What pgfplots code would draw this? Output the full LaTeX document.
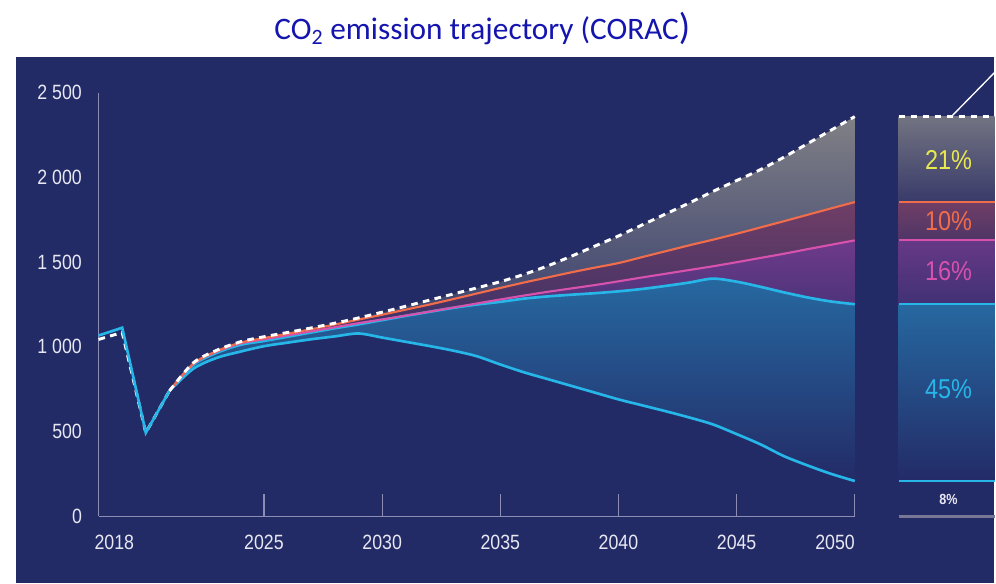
\documentclass[border=0pt]{standalone}
\usepackage{pgfplots}
\pgfplotsset{compat=1.18}
\usepackage{pgfplotstable}
\usepgfplotslibrary{fillbetween}
\usepackage{fontspec}
\setmainfont{Liberation Sans}
\newfontfamily\tickfont[FakeStretch=0.86]{Liberation Sans}
\newfontfamily\titlefont{Carlito}

\definecolor{bg}{RGB}{35,43,103}
\definecolor{titleblue}{RGB}{20,20,175}
\definecolor{axisgray}{RGB}{140,140,180}
\definecolor{labelgray}{RGB}{232,232,242}
\definecolor{cyanc}{RGB}{38,182,232}
\definecolor{orangec}{RGB}{240,108,74}
\definecolor{magc}{RGB}{214,82,172}
\definecolor{yellowc}{RGB}{232,232,80}
\definecolor{bargray}{RGB}{120,120,150}
\definecolor{greytop}{RGB}{128,128,134}
\definecolor{greymid}{RGB}{62,62,106}
\definecolor{orgtop}{RGB}{112,62,102}
\definecolor{purtop}{RGB}{110,58,138}
\definecolor{bluetop}{RGB}{38,104,160}

\pgfplotstableread{
year dash orange magenta cyanup cyanlow
2021 740 740 740 740 740
2022 905 900 898 893 870
2023 980 975 972 965 935
2024 1030 1025 1020 1012 972
2025 1060 1052 1045 1035 1004
2026 1085 1078 1068 1060 1025
2027 1112 1104 1092 1085 1045
2028 1140 1132 1116 1110 1062
2029 1171 1161 1140 1133 1079
2030 1205 1190 1162 1158 1055
2031 1240 1220 1185 1183 1030
2032 1276 1250 1208 1207 1005
2033 1312 1282 1232 1230 978
2034 1348 1315 1256 1250 945
2035 1385 1348 1280 1266 896
2036 1428 1380 1303 1285 850
2037 1478 1410 1325 1298 810
2038 1535 1440 1345 1308 770
2039 1595 1468 1365 1317 730
2040 1655 1495 1387 1328 690
2041 1720 1530 1410 1342 655
2042 1785 1565 1432 1360 620
2043 1850 1600 1454 1380 583
2044 1918 1633 1476 1403 542
2045 1982 1668 1500 1385 485
2046 2046 1705 1525 1355 425
2047 2120 1742 1550 1322 355
2048 2200 1780 1577 1292 300
2049 2280 1818 1603 1268 250
2050 2360 1855 1629 1252 208
}\mainup

\pgfplotstableread{
year dash cyan
2018 1044 1067
2019 1085 1113
2020 493 493
2021 740 740
}\early

\pgfplotstableread{
x top orange magenta cyanup cyanlow base
0 2360 1855 1629 1252 208 0
1 2360 1855 1629 1252 208 0
}\share

\begin{document}
\begin{tikzpicture}[x=0.75pt,y=0.75pt]
\path (0,0) rectangle (996,584);
\node[anchor=base, text=titleblue, font=\titlefont\fontsize{23.5}{27}\selectfont, inner sep=0pt] at (483,544)
  {CO\textsubscript{2} emission trajectory (CORAC{\fontsize{28}{30}\selectfont )}};

\begin{axis}[
  set layers,
  at={(74.03pt,50.25pt)}, anchor=south west, scale only axis,
  width=568pt, height=318pt,
  xmin=2018, xmax=2050, ymin=0, ymax=2500,
  axis x line=bottom, axis y line=left,
  axis line style={draw=axisgray, line width=0.8pt, -},
  xtick={2025,2030,...,2050},
  xticklabels={2025,2030,2035,2040,2045,\makebox[0pt][r]{2050}},
  extra x ticks={2018},
  extra x tick labels={\makebox[0pt][l]{\hspace{-3pt}2018}},
  extra x tick style={major tick length=0pt},
  ytick={0,500,...,2500},
  yticklabels={0,500,1 000,1 500,2 000,2 500},
  ytick style={draw=none},
  xtick style={draw=axisgray, line width=0.8pt},
  tick align=inside, major tick length=16.5pt,
  ticklabel style={font=\tickfont\fontsize{15.5}{17}\selectfont, text=labelgray},
  xticklabel style={yshift=-11pt},
  yticklabel style={xshift=-9pt},
  clip=false,
]
\begin{pgfonlayer}{axis background}
\fill[bg] (axis cs:2014.52,-395) rectangle (axis cs:2055.9,2712);
\end{pgfonlayer}
\addplot[draw=none, smooth, tension=0.5, name path=D] table[x=year,y=dash]{\mainup};
\addplot[draw=none, smooth, tension=0.5, name path=O] table[x=year,y=orange]{\mainup};
\addplot[draw=none, smooth, tension=0.5, name path=M] table[x=year,y=magenta]{\mainup};
\addplot[draw=none, smooth, tension=0.5, name path=CU] table[x=year,y=cyanup]{\mainup};
\addplot[draw=none, smooth, tension=0.5, name path=CL] table[x=year,y=cyanlow]{\mainup};

\addplot[top color=greytop, middle color=greymid, bottom color=bg] fill between[of=D and O];
\addplot[top color=orgtop, bottom color=bg] fill between[of=O and M];
\addplot[top color=purtop, bottom color=bg] fill between[of=M and CU];
\addplot[top color=bluetop, bottom color=bg] fill between[of=CU and CL];

\addplot[white, line width=2.2pt, dash pattern=on 5pt off 4pt] table[x=year,y=dash]{\early};
\addplot[cyanc, line width=2pt] table[x=year,y=cyan]{\early};
\addplot[cyanc, line width=2pt, smooth, tension=0.5] table[x=year,y=cyanlow]{\mainup};
\addplot[cyanc, line width=2pt, smooth, tension=0.5] table[x=year,y=cyanup]{\mainup};
\addplot[magc, line width=1.6pt, smooth, tension=0.5] table[x=year,y=magenta]{\mainup};
\addplot[orangec, line width=1.6pt, smooth, tension=0.5] table[x=year,y=orange]{\mainup};
\addplot[white, line width=2.2pt, dash pattern=on 5pt off 4pt, smooth, tension=0.5] table[x=year,y=dash]{\mainup};
\end{axis}

\begin{axis}[
  set layers,
  at={(675pt,50.25pt)}, anchor=south west, scale only axis,
  width=72pt, height=318pt,
  xmin=0, xmax=1, ymin=0, ymax=2500,
  hide axis, clip=false,
]
\addplot[draw=none, name path=T] table[x=x,y=top]{\share};
\addplot[draw=none, name path=RO] table[x=x,y=orange]{\share};
\addplot[draw=none, name path=RM] table[x=x,y=magenta]{\share};
\addplot[draw=none, name path=RC] table[x=x,y=cyanup]{\share};
\addplot[draw=none, name path=RL] table[x=x,y=cyanlow]{\share};
\addplot[top color=greytop!85!bg, bottom color=greymid!80!bg] fill between[of=T and RO];
\addplot[top color=orgtop, bottom color=orgtop!55!bg] fill between[of=RO and RM];
\addplot[top color=purtop!90!bg, bottom color=purtop!40!bg] fill between[of=RM and RC];
\addplot[top color=bluetop, bottom color=bg] fill between[of=RC and RL];
\addplot[bargray, line width=2pt] table[x=x,y=base]{\share};
\addplot[cyanc, line width=1.5pt] table[x=x,y=cyanlow]{\share};
\addplot[cyanc, line width=1.8pt] table[x=x,y=cyanup]{\share};
\addplot[magc, line width=1.6pt] table[x=x,y=magenta]{\share};
\addplot[orangec, line width=1.6pt] table[x=x,y=orange]{\share};
\addplot[white, line width=2.2pt, dash pattern=on 5pt off 4pt] table[x=x,y=top]{\share};
\addplot[white, line width=1pt] coordinates {(0.55,2360) (1.0,2620)};
\node[text=yellowc, font=\tickfont\fontsize{20.5}{23}\selectfont] at (axis cs:0.52,2105) {21\%};
\node[text=orangec, font=\tickfont\fontsize{20.5}{23}\selectfont] at (axis cs:0.52,1741) {10\%};
\node[text=magc, font=\tickfont\fontsize{20.5}{23}\selectfont] at (axis cs:0.52,1446) {16\%};
\node[text=cyanc, font=\tickfont\fontsize{20.5}{23}\selectfont] at (axis cs:0.52,749) {45\%};
\node[text=labelgray, font=\tickfont\bfseries\fontsize{11}{12}\selectfont] at (axis cs:0.52,100) {8\%};
\end{axis}
\end{tikzpicture}
\end{document}
